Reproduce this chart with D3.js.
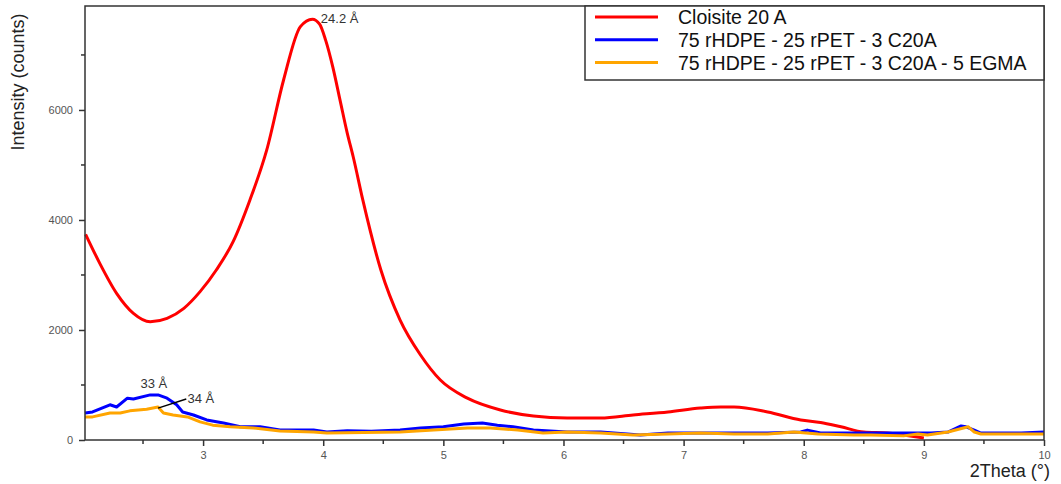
<!DOCTYPE html>
<html><head><meta charset="utf-8">
<script src="https://cdn.jsdelivr.net/npm/d3@7"></script>
<style>body{margin:0;background:#fff;} svg{display:block;font-family:"Liberation Sans",Arial,sans-serif;}</style>
</head><body><svg id="c" width="1061" height="484"></svg>
<script>
// ---- data ----
const redX = [2.022,2.14,2.28,2.42,2.56,2.70,2.84,2.975,3.11,3.25,3.39,3.53,3.67,3.81,3.91,3.97,4.02,4.08,4.14,4.20,4.25,4.33,4.48,4.64,4.81,4.975,5.2,5.475,5.75,6.03,6.31,6.58,6.87,7.14,7.31,7.42,7.7,7.975,8.14,8.31,8.5,8.7,8.83,9.0];
const redY = [3740,3212,2667,2303,2151,2212,2394,2697,3091,3606,4364,5273,6545,7515,7650,7560,7270,6780,6180,5580,5145,4360,3090,2180,1545,1090,760,545,436,400,400,455,510,580,600,600,510,365,320,240,145,127,90,36];
const blueX = [2.017,2.08,2.225,2.28,2.37,2.42,2.56,2.625,2.7,2.78,2.83,2.92,3.03,3.17,3.31,3.475,3.64,3.92,4.03,4.2,4.4,4.64,4.81,5.0,5.17,5.325,5.45,5.58,5.75,6.03,6.31,6.64,6.87,7.14,7.42,7.7,7.975,8.03,8.14,8.56,8.92,9.06,9.2,9.31,9.35,9.42,9.475,9.81,10.0];
const blueY = [490,510,640,600,760,745,820,820,760,640,510,455,365,310,240,240,180,180,145,170,160,180,220,240,290,310,270,240,180,145,145,90,127,127,127,127,145,180,127,127,127,127,145,255,240,180,127,127,145];
const orangeX = [2.017,2.08,2.225,2.31,2.39,2.53,2.625,2.67,2.75,2.87,2.975,3.08,3.225,3.42,3.64,3.92,4.03,4.64,4.92,5.2,5.39,5.62,5.83,6.03,6.31,6.58,6.87,7.14,7.42,7.7,7.92,8.12,8.42,8.56,8.83,8.95,9.03,9.2,9.37,9.42,9.475,9.81,10.0];
const orangeY = [420,420,490,490,530,560,600,490,455,420,330,270,240,220,165,145,127,145,180,220,220,180,127,145,127,90,110,127,110,110,145,110,90,90,75,110,90,145,240,145,110,110,110];
const seriesNames = ["Cloisite 20 A","75 rHDPE - 25 rPET - 3 C20A","75 rHDPE - 25 rPET - 3 C20A - 5 EGMA"];
const seriesColors = ["#ff0000","#0000ff","#ffa500"];
const xTicks = [3,4,5,6,7,8,9,10];
const yTicks = [0,2000,4000,6000];
const xMinor = [2.5,3.5,4.5,5.5,6.5,7.5,8.5,9.5];
const yMinor = [1000,3000,5000,7000];

// ---- layout ----
const svg = d3.select("#c");
const L=85, R=1044, T=6, B=440;
const x = d3.scaleLinear().domain([2.017,10]).range([L,R]);
const y = d3.scaleLinear().domain([0,7890]).range([B,T]);
const axisCol="#333", tickTxt="#555";

const g = svg.append("g");
const series = [[redX,redY],[blueX,blueY],[orangeX,orangeY]];
series.forEach((s,i)=>{
  const pts = s[0].map((v,j)=>[v,s[1][j]]);
  const line = d3.line().x(d=>x(d[0])).y(d=>y(d[1])).curve(i===0?d3.curveMonotoneX:d3.curveLinear);
  g.append("path").datum(pts).attr("d",line).attr("fill","none")
   .attr("stroke",seriesColors[i]).attr("stroke-width",3).attr("stroke-linejoin","round");
});

// frame
svg.append("rect").attr("x",L).attr("y",T).attr("width",R-L).attr("height",B-T)
  .attr("fill","none").attr("stroke",axisCol).attr("stroke-width",1.5);

// axes
const xa = svg.append("g").attr("transform",`translate(0,${B})`)
  .call(d3.axisBottom(x).tickValues(xTicks).tickFormat(d3.format("d")).tickSize(6).tickSizeOuter(0));
xa.select(".domain").remove();
xa.selectAll(".tick line").attr("stroke",axisCol).attr("stroke-width",1.5);
xa.selectAll(".tick text").attr("fill",tickTxt).attr("font-size",11).attr("dy","0.9em");
xa.selectAll(".minor").data(xMinor).enter().append("line")
  .attr("x1",d=>x(d)).attr("x2",d=>x(d)).attr("y1",0).attr("y2",4).attr("stroke",axisCol).attr("stroke-width",1.5);

const ya = svg.append("g").attr("transform",`translate(${L},0)`)
  .call(d3.axisLeft(y).tickValues(yTicks).tickFormat(d3.format("d")).tickSize(6).tickSizeOuter(0));
ya.select(".domain").remove();
ya.selectAll(".tick line").attr("stroke",axisCol).attr("stroke-width",1.5);
ya.selectAll(".tick text").attr("fill",tickTxt).attr("font-size",11).attr("x",-12);
ya.selectAll(".minor").data(yMinor).enter().append("line")
  .attr("y1",d=>y(d)).attr("y2",d=>y(d)).attr("x1",0).attr("x2",-4).attr("stroke",axisCol).attr("stroke-width",1.5);

// axis titles
svg.append("text").attr("transform",`translate(24,${82}) rotate(-90)`).attr("text-anchor","middle")
  .attr("font-size",18).attr("fill","#222").text("Intensity (counts)");
svg.append("text").attr("x",1050).attr("y",477).attr("text-anchor","end")
  .attr("font-size",18).attr("fill","#222").text("2Theta (°)");

// annotations
const ann = svg.append("g").attr("font-size",13).attr("fill","#333");
ann.append("text").attr("x",x(3.98)).attr("y",y(7670)).attr("dy","0.35em").text("24.2 Å");
ann.append("text").attr("x",x(2.59)).attr("y",y(1035)).attr("dy","0.35em").attr("text-anchor","middle").text("33 Å");
svg.append("line").attr("x1",x(2.625)).attr("y1",y(580)).attr("x2",x(2.86)).attr("y2",y(745))
  .attr("stroke","#000").attr("stroke-width",1.5);
ann.append("text").attr("x",x(2.87)).attr("y",y(760)).attr("dy","0.35em").text("34 Å");

// legend
const lg = svg.append("g");
lg.append("rect").attr("x",585).attr("y",T).attr("width",R-585).attr("height",80-T)
  .attr("fill","#fff").attr("stroke",axisCol).attr("stroke-width",1.5);
seriesNames.forEach((n,i)=>{
  const yy = 17 + i*22.8;
  lg.append("line").attr("x1",595).attr("x2",658).attr("y1",yy).attr("y2",yy)
    .attr("stroke",seriesColors[i]).attr("stroke-width",3);
  lg.append("text").attr("x",678).attr("y",yy).attr("dy","0.36em").attr("font-size",19.5).attr("fill","#111").text(n);
});
</script></body></html>
